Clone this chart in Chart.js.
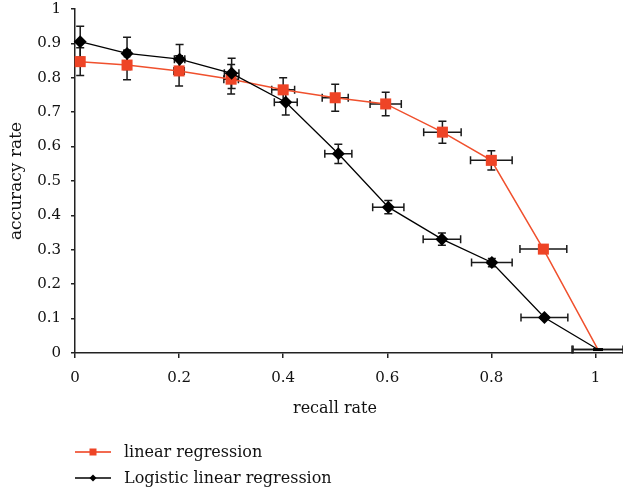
<!DOCTYPE html>
<html>
<head>
<meta charset="utf-8">
<script src="https://cdn.jsdelivr.net/npm/chart.js@4.4.1/dist/chart.umd.min.js"></script>
<style>
html,body{margin:0;padding:0;background:#fff;}
#wrap{position:relative;width:623px;height:493px;overflow:hidden;background:#fff;}
#c{position:absolute;left:0;top:0;}
.serif{font-family:"DejaVu Serif",serif;color:#111;}
#xtitle{position:absolute;top:398px;left:235px;width:200px;text-align:center;font-size:16px;line-height:20px;}
#legend{position:absolute;left:75px;top:439px;font-size:16px;line-height:20px;}
.row{height:26px;display:flex;align-items:center;}
.row svg{margin-right:13px;display:block;}
</style>
</head>
<body>
<div id="wrap">
<canvas id="c" width="623" height="493"></canvas>
<div id="xtitle" class="serif">recall rate</div>
<div id="legend" class="serif">
  <div class="row"><svg width="36" height="12"><line x1="0" y1="6" x2="36" y2="6" stroke="#F26A50" stroke-width="2"/><rect x="14.5" y="2.5" width="7" height="7" fill="#EE4426"/></svg><span>linear regression</span></div>
  <div class="row"><svg width="36" height="12"><line x1="0" y1="6" x2="36" y2="6" stroke="#000" stroke-width="1.5"/><polygon points="18,2.5 21.5,6 18,9.5 14.5,6" fill="#000"/></svg><span>Logistic linear regression</span></div>
</div>
</div>
<script>
// ---- data ----
const linX    = [0.01, 0.1, 0.2, 0.3, 0.4, 0.5, 0.597, 0.706, 0.8, 0.9, 1.005];
const linY    = [0.847, 0.837, 0.820, 0.796, 0.765, 0.742, 0.724, 0.642, 0.560, 0.302, 0.01];
const linXErr = [0.0005, 0.005, 0.01, 0.014, 0.022, 0.025, 0.03, 0.036, 0.04, 0.045, 0.05];
const linYErr = [0.04, 0.043, 0.044, 0.043, 0.035, 0.039, 0.034, 0.032, 0.028, 0.012, 0.002];

const logX    = [0.01, 0.1, 0.201, 0.301, 0.405, 0.506, 0.602, 0.705, 0.801, 0.902, 1.005];
const logY    = [0.905, 0.871, 0.854, 0.813, 0.729, 0.579, 0.424, 0.331, 0.263, 0.103, 0.01];
const logXErr = [0.0005, 0.005, 0.01, 0.014, 0.022, 0.026, 0.03, 0.036, 0.039, 0.045, 0.048];
const logYErr = [0.045, 0.047, 0.043, 0.044, 0.037, 0.028, 0.019, 0.018, 0.012, 0.005, 0.002];

const xTickValues = [0, 0.2, 0.4, 0.6, 0.8, 1];
const yTickValues = [0, 0.1, 0.2, 0.3, 0.4, 0.5, 0.6, 0.7, 0.8, 0.9, 1];
const seriesNames = ['linear regression', 'Logistic linear regression'];

const toPoints = (xs, ys) => xs.map((x, i) => ({x: x, y: ys[i]}));
const errorSets = [
  {xe: linXErr, ye: linYErr},
  {xe: logXErr, ye: logYErr}
];

const errorBarPlugin = {
  id: 'errorBars',
  beforeDatasetsDraw(chart) {
    const ctx = chart.ctx;
    const xs = chart.scales.x, ys = chart.scales.y;
    const cap = 4;
    ctx.save();
    ctx.strokeStyle = '#1a1a1a';
    ctx.lineWidth = 1.5;
    chart.data.datasets.forEach((ds, di) => {
      const err = errorSets[di];
      ds.data.forEach((p, i) => {
        const px = xs.getPixelForValue(p.x), py = ys.getPixelForValue(p.y);
        const y1 = ys.getPixelForValue(p.y + err.ye[i]), y2 = ys.getPixelForValue(p.y - err.ye[i]);
        const x1 = xs.getPixelForValue(p.x - err.xe[i]), x2 = xs.getPixelForValue(p.x + err.xe[i]);
        ctx.beginPath();
        if (Math.abs(y2 - y1) > 2) {
          ctx.moveTo(px, y1); ctx.lineTo(px, y2);
          ctx.moveTo(px - cap, y1); ctx.lineTo(px + cap, y1);
          ctx.moveTo(px - cap, y2); ctx.lineTo(px + cap, y2);
        }
        if (Math.abs(x2 - x1) > 2) {
          ctx.moveTo(x1, py); ctx.lineTo(x2, py);
          ctx.moveTo(x1, py - cap); ctx.lineTo(x1, py + cap);
          ctx.moveTo(x2, py - cap); ctx.lineTo(x2, py + cap);
        }
        ctx.stroke();
      });
    });
    ctx.restore();
  }
};

const tickFont = {family: '"DejaVu Serif", serif', size: 15};
const lastIdx = linX.length - 1;

new Chart(document.getElementById('c'), {
  type: 'line',
  data: {
    datasets: [
      {
        label: seriesNames[0],
        data: toPoints(linX, linY),
        borderColor: '#F0502D',
        backgroundColor: '#EE4426',
        borderWidth: 1.5,
        pointStyle: 'rect',
        pointRadius: c => c.dataIndex === lastIdx ? 0 : 7.8,
        pointBorderWidth: 0,
        pointBackgroundColor: '#EE4426',
        order: 2,
        clip: false
      },
      {
        label: seriesNames[1],
        data: toPoints(logX, logY),
        borderColor: '#000',
        backgroundColor: '#000',
        borderWidth: 1.3,
        pointStyle: c => c.dataIndex === lastIdx ? 'line' : 'rectRot',
        pointRadius: c => c.dataIndex === lastIdx ? 5 : 6.5,
        pointBorderWidth: c => c.dataIndex === lastIdx ? 3 : 0,
        pointBackgroundColor: '#000',
        pointBorderColor: '#000',
        order: 1,
        clip: false
      }
    ]
  },
  options: {
    responsive: false,
    animation: false,
    devicePixelRatio: 1,
    layout: {autoPadding: false, padding: {top: 9, right: 0, bottom: 0, left: 0}},
    plugins: {legend: {display: false}, tooltip: {enabled: false}},
    scales: {
      x: {
        type: 'linear',
        min: 0,
        max: 1.053,
        afterBuildTicks: s => { s.ticks = xTickValues.map(v => ({value: v})); },
        afterFit: s => { s.height = 140; s.paddingLeft = 0; s.paddingRight = 0; },
        ticks: {font: tickFont, color: '#111', padding: 11, maxRotation: 0,
                callback: v => String(+v.toFixed(1))},
        grid: {drawOnChartArea: false, drawTicks: true, tickLength: 5, color: '#222', lineWidth: 1.5},
        border: {color: '#222', width: 1.5}
      },
      y: {
        type: 'linear',
        min: 0,
        max: 1,
        afterBuildTicks: s => { s.ticks = yTickValues.map(v => ({value: v})); },
        afterFit: s => { s.width = 75; s.paddingTop = 0; s.paddingBottom = 0; },
        ticks: {font: tickFont, color: '#111', padding: 10,
                callback: v => String(+v.toFixed(1))},
        grid: {drawOnChartArea: false, drawTicks: true, tickLength: 4, color: '#222', lineWidth: 1.5},
        border: {color: '#222', width: 1.5},
        title: {display: true, text: 'accuracy rate', color: '#111',
                font: {family: '"DejaVu Serif", serif', size: 17},
                padding: {top: 6.5, bottom: 0}}
      }
    }
  },
  plugins: [errorBarPlugin]
});
</script>
</body>
</html>
